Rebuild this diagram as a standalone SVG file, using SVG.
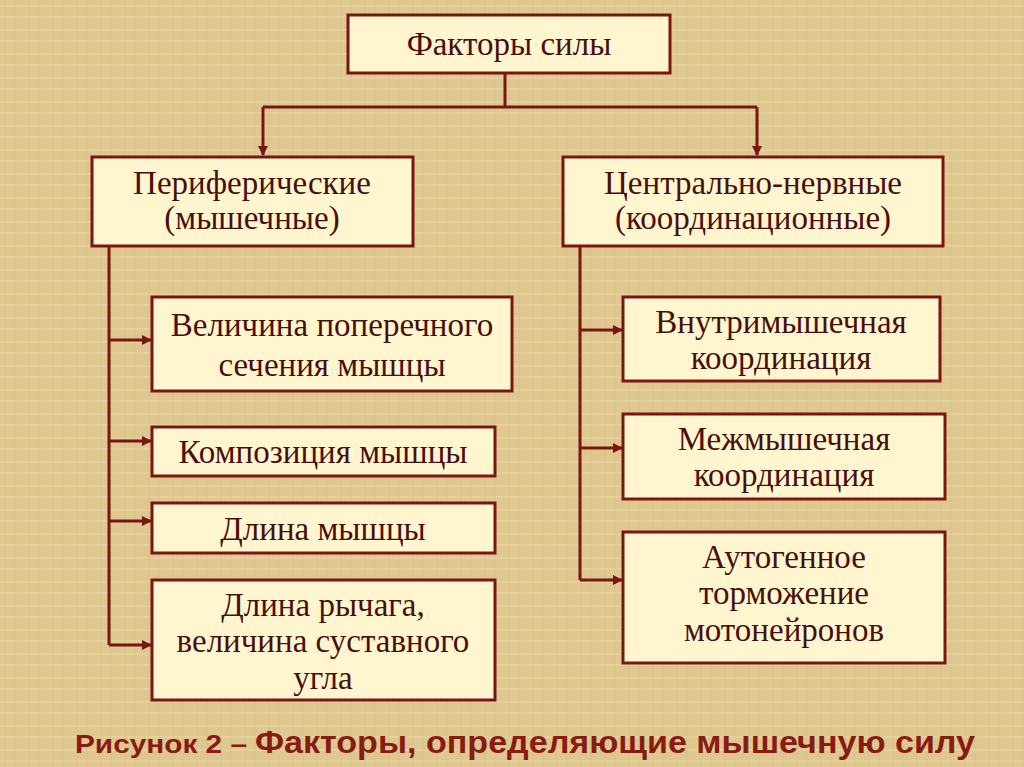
<svg xmlns="http://www.w3.org/2000/svg" width="1024" height="767" viewBox="0 0 1024 767">
<defs>
<marker id="arr" markerWidth="10" markerHeight="10" refX="9" refY="5" orient="auto" markerUnits="userSpaceOnUse">
<path d="M0,0 L10,5 L0,10 Z" fill="#7a1612"/>
</marker>
<pattern id="tex" width="24" height="24" patternUnits="userSpaceOnUse">
<rect width="24" height="24" fill="#dfc890"/>
<path d="M0,6 H24 M0,17 H24" stroke="#e8d6a6" stroke-width="2" opacity="0.6"/>
<path d="M5,0 V24 M15,0 V24" stroke="#cfb37a" stroke-width="1" opacity="0.4"/>
</pattern>
</defs>
<style>
.box{fill:#fff6cf;stroke:#7a1612;stroke-width:3}
.t{font-family:"Liberation Serif","Times New Roman",serif;font-size:33px;fill:#4a0f0c;text-anchor:middle}
.c{fill:none;stroke:#7a1612;stroke-width:3}
.cap{font-family:"Liberation Sans",Arial,sans-serif;font-weight:bold;fill:#8a1a14}
</style>
<rect width="1024" height="767" fill="url(#tex)"/>
<g id="connectors">
<path class="c" d="M505,74 V107 M263,107 H757"/>
<path class="c" d="M263,107 V155" marker-end="url(#arr)"/>
<path class="c" d="M757,107 V155" marker-end="url(#arr)"/>
<path class="c" d="M109,247 V645"/>
<path class="c" d="M109,340 H151" marker-end="url(#arr)"/>
<path class="c" d="M109,441 H151" marker-end="url(#arr)"/>
<path class="c" d="M109,521 H151" marker-end="url(#arr)"/>
<path class="c" d="M109,645 H151" marker-end="url(#arr)"/>
<path class="c" d="M580,247 V580"/>
<path class="c" d="M580,330 H622" marker-end="url(#arr)"/>
<path class="c" d="M580,448 H622" marker-end="url(#arr)"/>
<path class="c" d="M580,580 H622" marker-end="url(#arr)"/>
</g>
<g id="n-top"><rect class="box" x="348" y="15" width="322" height="58"/><text class="t" x="509" y="55">Факторы силы</text></g>
<g id="n-periph"><rect class="box" x="92" y="157" width="321" height="89"/><text class="t" x="252" y="194">Периферические</text><text class="t" x="252" y="229">(мышечные)</text></g>
<g id="n-central"><rect class="box" x="563" y="157" width="380" height="89"/><text class="t" x="753" y="194">Центрально-нервные</text><text class="t" x="753" y="229">(координационные)</text></g>
<g id="n-l1"><rect class="box" x="152" y="297" width="360" height="94"/><text class="t" x="332" y="336">Величина поперечного</text><text class="t" x="332" y="376">сечения мышцы</text></g>
<g id="n-l2"><rect class="box" x="152" y="427" width="343" height="49"/><text class="t" x="323" y="463">Композиция мышцы</text></g>
<g id="n-l3"><rect class="box" x="152" y="503" width="343" height="50"/><text class="t" x="323" y="540">Длина мышцы</text></g>
<g id="n-l4"><rect class="box" x="152" y="580" width="343" height="120"/><text class="t" x="323" y="616">Длина рычага,</text><text class="t" x="323" y="652">величина суставного</text><text class="t" x="323" y="689">угла</text></g>
<g id="n-r1"><rect class="box" x="623" y="297" width="317" height="84"/><text class="t" x="781" y="333">Внутримышечная</text><text class="t" x="781" y="369">координация</text></g>
<g id="n-r2"><rect class="box" x="623" y="414" width="322" height="85"/><text class="t" x="784" y="450">Межмышечная</text><text class="t" x="784" y="486">координация</text></g>
<g id="n-r3"><rect class="box" x="623" y="532" width="322" height="131"/><text class="t" x="784" y="568">Аутогенное</text><text class="t" x="784" y="604">торможение</text><text class="t" x="784" y="641">мотонейронов</text></g>
<text class="cap" x="75" y="753" font-size="25" textLength="172" lengthAdjust="spacingAndGlyphs">Рисунок 2 –</text>
<text class="cap" x="255" y="753" font-size="32" textLength="720" lengthAdjust="spacingAndGlyphs">Факторы, определяющие мышечную силу</text>
</svg>
